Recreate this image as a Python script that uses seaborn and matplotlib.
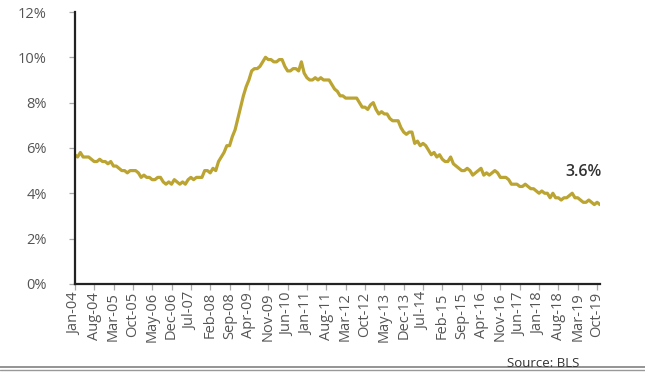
import numpy as np
import pandas as pd
import matplotlib
matplotlib.use("Agg")
import matplotlib.pyplot as plt
import seaborn as sns

# Monthly US unemployment rate (%), Jan 2004 - Nov 2019
rate_2004 = [5.7, 5.6, 5.8, 5.6, 5.6, 5.6, 5.5, 5.4, 5.4, 5.5, 5.4, 5.4]
rate_2005 = [5.3, 5.4, 5.2, 5.2, 5.1, 5.0, 5.0, 4.9, 5.0, 5.0, 5.0, 4.9]
rate_2006 = [4.7, 4.8, 4.7, 4.7, 4.6, 4.6, 4.7, 4.7, 4.5, 4.4, 4.5, 4.4]
rate_2007 = [4.6, 4.5, 4.4, 4.5, 4.4, 4.6, 4.7, 4.6, 4.7, 4.7, 4.7, 5.0]
rate_2008 = [5.0, 4.9, 5.1, 5.0, 5.4, 5.6, 5.8, 6.1, 6.1, 6.5, 6.8, 7.3]
rate_2009 = [7.8, 8.3, 8.7, 9.0, 9.4, 9.5, 9.5, 9.6, 9.8, 10.0, 9.9, 9.9]
rate_2010 = [9.8, 9.8, 9.9, 9.9, 9.6, 9.4, 9.4, 9.5, 9.5, 9.4, 9.8, 9.3]
rate_2011 = [9.1, 9.0, 9.0, 9.1, 9.0, 9.1, 9.0, 9.0, 9.0, 8.8, 8.6, 8.5]
rate_2012 = [8.3, 8.3, 8.2, 8.2, 8.2, 8.2, 8.2, 8.0, 7.8, 7.8, 7.7, 7.9]
rate_2013 = [8.0, 7.7, 7.5, 7.6, 7.5, 7.5, 7.3, 7.2, 7.2, 7.2, 6.9, 6.7]
rate_2014 = [6.6, 6.7, 6.7, 6.2, 6.3, 6.1, 6.2, 6.1, 5.9, 5.7, 5.8, 5.6]
rate_2015 = [5.7, 5.5, 5.4, 5.4, 5.6, 5.3, 5.2, 5.1, 5.0, 5.0, 5.1, 5.0]
rate_2016 = [4.8, 4.9, 5.0, 5.1, 4.8, 4.9, 4.8, 4.9, 5.0, 4.9, 4.7, 4.7]
rate_2017 = [4.7, 4.6, 4.4, 4.4, 4.4, 4.3, 4.3, 4.4, 4.3, 4.2, 4.2, 4.1]
rate_2018 = [4.0, 4.1, 4.0, 4.0, 3.8, 4.0, 3.8, 3.8, 3.7, 3.8, 3.8, 3.9]
rate_2019 = [4.0, 3.8, 3.8, 3.7, 3.6, 3.6, 3.7, 3.6, 3.5, 3.6, 3.5]

years = list(range(2004, 2020))
month_names = ["Jan", "Feb", "Mar", "Apr", "May", "Jun",
               "Jul", "Aug", "Sep", "Oct", "Nov", "Dec"]

# Category labels shown on the x axis (every 7th month)
tick_labels = ["Jan-04", "Aug-04", "Mar-05", "Oct-05", "May-06", "Dec-06",
               "Jul-07", "Feb-08", "Sep-08", "Apr-09", "Nov-09", "Jun-10",
               "Jan-11", "Aug-11", "Mar-12", "Oct-12", "May-13", "Dec-13",
               "Jul-14", "Feb-15", "Sep-15", "Apr-16", "Nov-16", "Jun-17",
               "Jan-18", "Aug-18", "Mar-19", "Oct-19"]

callout_text = "3.6%"
source_text = "Source: BLS"

rates = (rate_2004 + rate_2005 + rate_2006 + rate_2007 + rate_2008 + rate_2009
         + rate_2010 + rate_2011 + rate_2012 + rate_2013 + rate_2014 + rate_2015
         + rate_2016 + rate_2017 + rate_2018 + rate_2019)
months = [f"{m}-{str(y)[2:]}" for y in years for m in month_names][:len(rates)]

df = pd.DataFrame({"month": months, "rate": rates})
df["pos"] = np.arange(len(df))

sns.set_theme(style="white")
plt.rcParams["font.family"] = ["Open Sans", "DejaVu Sans"]

fig = plt.figure(figsize=(6.45, 3.75), dpi=100)
ax = fig.add_axes([0.116, 0.243, 0.814, 0.725])

line_color = "#BBA431"
sns.lineplot(data=df, x="pos", y="rate", ax=ax, color=line_color,
             linewidth=2.3, legend=False)

ax.set_xlim(df["pos"].iloc[0], df["pos"].iloc[-1])
ax.set_ylim(0, 12)
ax.set_yticks(np.arange(0, 13, 2))
ax.set_yticklabels([f"{v}%" for v in range(0, 13, 2)])

tick_pos = df.loc[df["month"].isin(tick_labels), "pos"].tolist()
ax.set_xticks(tick_pos)
ax.set_xticklabels(tick_labels, rotation=90)

ax.set_xlabel("")
ax.set_ylabel("")

for side in ["top", "right"]:
    ax.spines[side].set_visible(False)
for side in ["left", "bottom"]:
    ax.spines[side].set_color("#222222")
    ax.spines[side].set_linewidth(1.6)

ax.tick_params(axis="y", which="major", direction="out", length=4,
               width=0.9, color="#aaaaaa", pad=16, labelsize=10.5,
               labelcolor="#555555", left=True)
ax.tick_params(axis="x", which="major", direction="out", length=4,
               width=0.9, color="#aaaaaa", pad=2, labelsize=10.5,
               labelcolor="#555555", bottom=True)

# Callout for the latest reading
ax.text(1.004, 0.41, callout_text, transform=ax.transAxes, ha="right",
        va="center", fontsize=11.5, fontweight="semibold", color="#333333")

# Footer: source note and rule
fig.text(0.842, 0.030, source_text, ha="center", va="center",
         fontsize=9.5, color="#333333")
fig.add_artist(plt.Line2D([0, 1], [0.021, 0.021], transform=fig.transFigure,
                          color="#777777", linewidth=1.1))
fig.add_artist(plt.Line2D([0, 1], [0.013, 0.013], transform=fig.transFigure,
                          color="#999999", linewidth=1.0))

fig.savefig("out.png", dpi=100)
